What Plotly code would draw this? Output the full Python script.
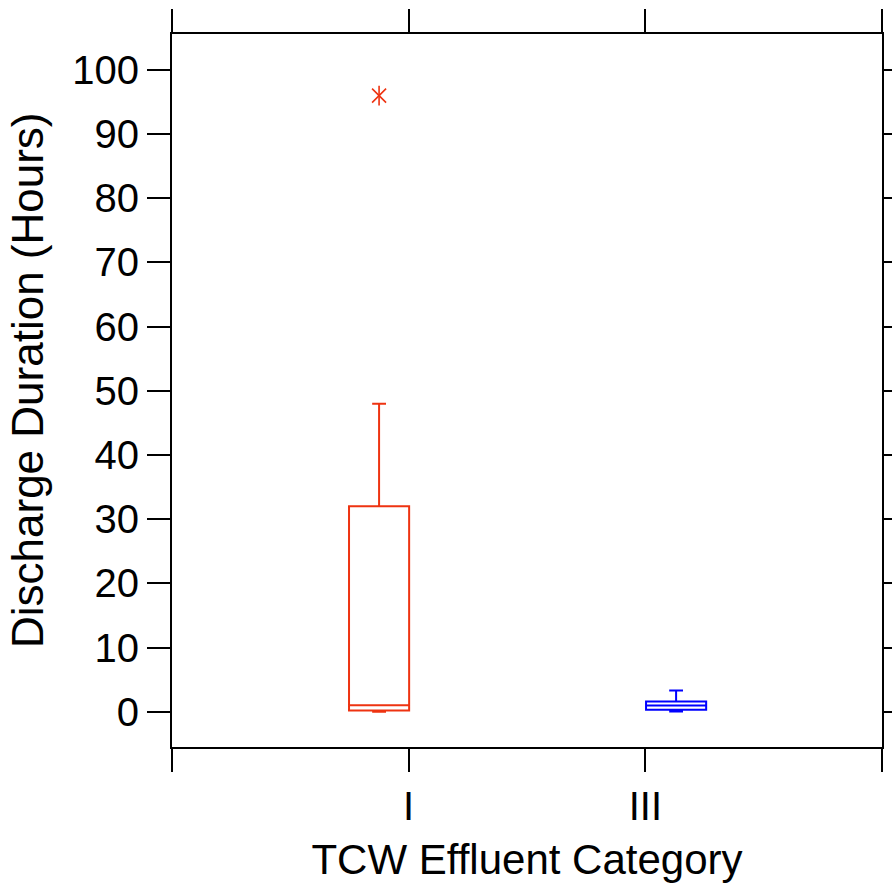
import plotly.graph_objects as go

# Discharge duration (hours) summary per TCW effluent category
categories = ["I", "III"]
lower_whisker = [0.0, 0.05]
q1_values = [0.2, 0.3]
median_values = [1.0, 0.95]
q3_values = [32.0, 1.6]
upper_whisker = [48.0, 3.3]
outlier_category = ["I"]
outlier_values = [96.0]

colors = {"I": "#EE3311", "III": "#0000FF"}
# category slot on the numeric axis, plus side-by-side offset of each box
slot = {"I": 1.0, "III": 2.0}
offset = {"I": -0.125, "III": 0.13}

fig = go.Figure()

for i, cat in enumerate(categories):
    pos = slot[cat] + offset[cat]
    fig.add_trace(go.Box(
        x=[pos],
        q1=[q1_values[i]],
        median=[median_values[i]],
        q3=[q3_values[i]],
        lowerfence=[lower_whisker[i]],
        upperfence=[upper_whisker[i]],
        width=0.254,
        whiskerwidth=0.23,
        fillcolor="rgba(255,255,255,0)",
        line=dict(color=colors[cat], width=2),
        showlegend=False,
        name=cat,
    ))

# outliers drawn as six-armed stars (an x plus a vertical bar)
for cat, val in zip(outlier_category, outlier_values):
    pos = slot[cat] + offset[cat]
    for sym in ("x-thin-open", "line-ns-open"):
        fig.add_trace(go.Scatter(
            x=[pos], y=[val], mode="markers",
            marker=dict(symbol=sym, size=14, color=colors[cat],
                        line=dict(color=colors[cat], width=1.6)),
            showlegend=False,
        ))

font_family = "Liberation Sans, Arial, sans-serif"

fig.update_layout(
    width=892, height=886,
    margin=dict(l=172, r=10, t=34, b=139, autoexpand=False),
    paper_bgcolor="white", plot_bgcolor="white",
    font=dict(family=font_family, color="black", size=40),
)

fig.update_xaxes(
    range=[0, 3],
    tickmode="array",
    tickvals=[0, 1, 2, 3],
    ticktext=["", "I", "III", ""],
    ticks="outside", ticklen=23, tickwidth=2, tickcolor="black",
    showline=True, linewidth=2, linecolor="black",
    mirror="allticks",
    showgrid=False, zeroline=False, automargin=False,
    tickfont=dict(size=40),
    title=dict(text="TCW Effluent Category", font=dict(size=42), standoff=18),
)

fig.update_yaxes(
    range=[-5.5, 105.6],
    tickmode="array",
    tickvals=list(range(0, 101, 10)),
    ticks="outside", ticklen=23, tickwidth=2, tickcolor="black",
    showline=True, linewidth=2, linecolor="black",
    mirror="allticks",
    showgrid=False, zeroline=False, automargin=False,
    tickfont=dict(size=40),
)

# vertical axis title
fig.add_annotation(
    text="Discharge Duration (Hours)",
    textangle=-90,
    xref="paper", yref="paper",
    x=(27 - 172) / 710, y=(747 - 380) / 713,
    xanchor="center", yanchor="middle",
    showarrow=False,
    font=dict(size=44, family=font_family, color="black"),
)

fig.write_html("out.html")
